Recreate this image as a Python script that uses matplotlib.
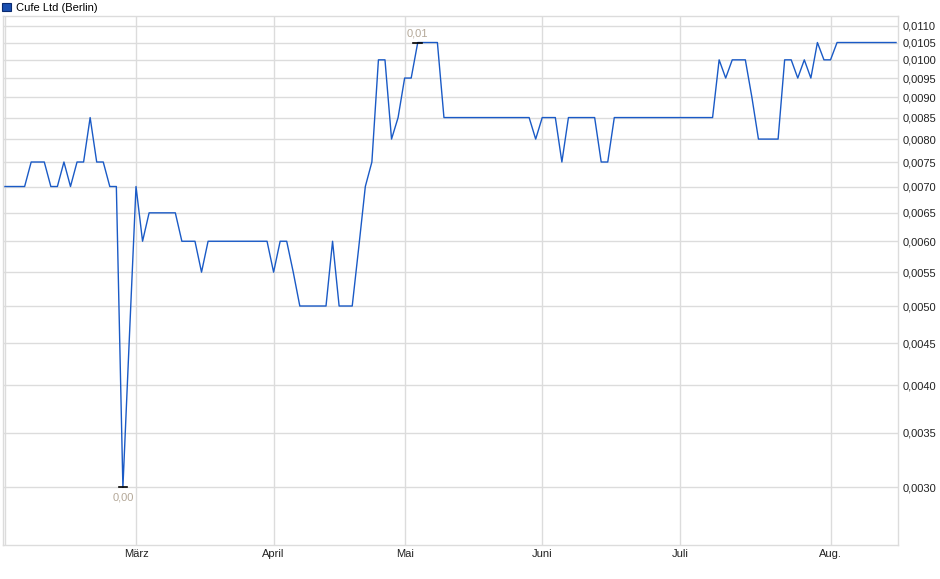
import matplotlib
matplotlib.use('Agg')
import matplotlib.pyplot as plt
from matplotlib.patches import Patch
from matplotlib.ticker import FixedLocator, NullLocator
import numpy as np

plt.rcParams['font.family'] = ['Liberation Sans', 'DejaVu Sans']

# Daily closing prices (one per trading day)
prices = [
    0.0070, 0.0070, 0.0070, 0.0070, 0.0075, 0.0075, 0.0075, 0.0070, 0.0070, 0.0075,
    0.0070, 0.0075, 0.0075, 0.0085, 0.0075, 0.0075, 0.0070, 0.0070, 0.0030, 0.0046,
    0.0070, 0.0060, 0.0065, 0.0065, 0.0065, 0.0065, 0.0065, 0.0060, 0.0060, 0.0060,
    0.0055, 0.0060, 0.0060, 0.0060, 0.0060, 0.0060, 0.0060, 0.0060, 0.0060, 0.0060,
    0.0060, 0.0055, 0.0060, 0.0060, 0.0055, 0.0050, 0.0050, 0.0050, 0.0050, 0.0050,
    0.0060, 0.0050, 0.0050, 0.0050, 0.0059, 0.0070, 0.0075, 0.0100, 0.0100, 0.0080,
    0.0085, 0.0095, 0.0095, 0.0105, 0.0105, 0.0105, 0.0105, 0.0085, 0.0085, 0.0085,
    0.0085, 0.0085, 0.0085, 0.0085, 0.0085, 0.0085, 0.0085, 0.0085, 0.0085, 0.0085,
    0.0085, 0.0080, 0.0085, 0.0085, 0.0085, 0.0075, 0.0085, 0.0085, 0.0085, 0.0085,
    0.0085, 0.0075, 0.0075, 0.0085, 0.0085, 0.0085, 0.0085, 0.0085, 0.0085, 0.0085,
    0.0085, 0.0085, 0.0085, 0.0085, 0.0085, 0.0085, 0.0085, 0.0085, 0.0085, 0.0100,
    0.0095, 0.0100, 0.0100, 0.0100, 0.0090, 0.0080, 0.0080, 0.0080, 0.0080, 0.0100,
    0.0100, 0.0095, 0.0100, 0.0095, 0.0105, 0.0100, 0.0100, 0.0105, 0.0105, 0.0105,
    0.0105, 0.0105, 0.0105, 0.0105, 0.0105, 0.0105, 0.0105,
]

# first trading day of each month (index into prices)
month_idx = [20, 41, 61, 82, 103, 126]
month_labels = ['März', 'April', 'Mai', 'Juni', 'Juli', 'Aug.']

y_ticks = [0.0030, 0.0035, 0.0040, 0.0045, 0.0050, 0.0055, 0.0060, 0.0065,
           0.0070, 0.0075, 0.0080, 0.0085, 0.0090, 0.0095, 0.0100, 0.0105, 0.0110]

series_name = 'Cufe Ltd (Berlin)'
line_color = '#1a5ac6'
grid_color = '#dcdcdc'

fig = plt.figure(figsize=(9.4, 5.79), dpi=100)
ax = fig.add_axes([3 / 940, 34 / 579, 895 / 940, 529 / 579])

x = np.arange(len(prices))
ax.plot(x, prices, color=line_color, linewidth=1.0, zorder=3)

ax.set_yscale('log')
ax.set_ylim(0.002551, 0.011314)
ax.set_xlim(-0.3, len(prices) - 0.7)

ax.yaxis.set_major_locator(FixedLocator(y_ticks))
ax.yaxis.set_minor_locator(NullLocator())
ax.set_yticklabels([f'{v:.4f}'.replace('.', ',') for v in y_ticks])
ax.yaxis.tick_right()
ax.set_xticks(month_idx)
ax.set_xticklabels(month_labels)
ax.tick_params(axis='both', length=0, labelsize=8, colors='#222222')
ax.tick_params(axis='y', pad=3.5)
ax.tick_params(axis='x', pad=3)

ax.grid(True, color=grid_color, linewidth=1.0, zorder=0)
ax.axvline(0, color=grid_color, linewidth=1.0, zorder=0)
for sp in ax.spines.values():
    sp.set_color(grid_color)
    sp.set_linewidth(1.0)

# min / max markers
i_max = int(np.argmax(prices))
i_min = int(np.argmin(prices))
ax.plot([i_max - 0.65, i_max + 0.65], [prices[i_max]] * 2, color='black', lw=1.2, zorder=4)
ax.plot([i_min - 0.65, i_min + 0.65], [prices[i_min]] * 2, color='black', lw=1.2, zorder=4)
ax.annotate(f'{prices[i_max]:.2f}'.replace('.', ','), (i_max, prices[i_max]),
            xytext=(0, 3), textcoords='offset points', ha='center', va='bottom',
            fontsize=8, color='#b4a898')
ax.annotate(f'{prices[i_min]:.2f}'.replace('.', ','), (i_min, prices[i_min]),
            xytext=(0, -3.5), textcoords='offset points', ha='center', va='top',
            fontsize=8, color='#b4a898',
            bbox=dict(facecolor='white', edgecolor='none', pad=0.5))

handle = Patch(facecolor='#1a4fb0', edgecolor='#0a2a70', linewidth=0.8, label=series_name)
fig.legend(handles=[handle], loc='upper left', bbox_to_anchor=(0, 0.999),
           frameon=False, fontsize=8, handlelength=0.8, handleheight=0.8,
           handletextpad=0.4, borderpad=0.2, borderaxespad=0.0)

fig.savefig('out.png', dpi=100)
